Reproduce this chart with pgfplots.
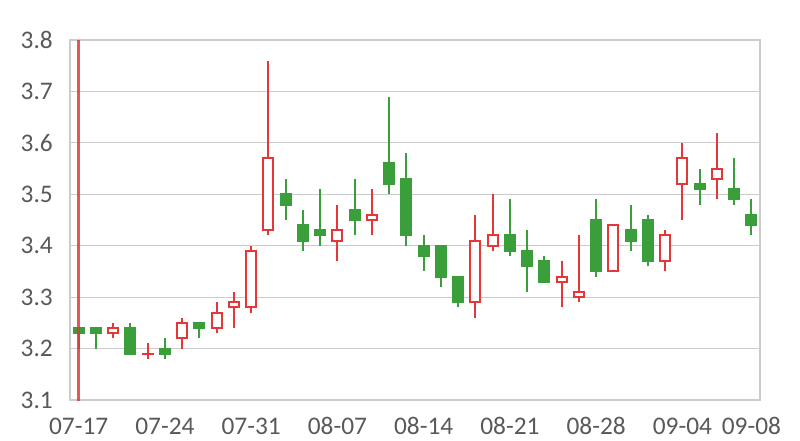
\documentclass[border=0pt]{standalone}
\usepackage{pgfplots}
\usepackage{pgfplotstable}
\pgfplotsset{compat=1.18}
\usepackage{fontspec}
\setmainfont{Carlito}
\definecolor{cred}{RGB}{229,55,55}
\definecolor{cgreen}{RGB}{58,158,58}
\definecolor{cgrid}{RGB}{204,204,204}
\definecolor{ctext}{RGB}{89,89,89}

% rising candles (close >= open): red, hollow
\pgfplotstableread{
idx open high low close
2 3.23 3.25 3.22 3.24
4 3.19 3.21 3.18 3.19
6 3.22 3.26 3.20 3.25
8 3.24 3.29 3.23 3.27
9 3.28 3.31 3.24 3.29
10 3.28 3.40 3.27 3.39
11 3.43 3.76 3.42 3.57
15 3.41 3.48 3.37 3.43
17 3.45 3.51 3.42 3.46
23 3.29 3.46 3.26 3.41
24 3.40 3.50 3.39 3.42
28 3.33 3.37 3.28 3.34
29 3.30 3.42 3.29 3.31
31 3.35 3.44 3.35 3.44
34 3.37 3.43 3.35 3.42
35 3.52 3.60 3.45 3.57
37 3.53 3.62 3.49 3.55
}\updata
% falling candles (close < open): green, filled
\pgfplotstableread{
idx open high low close
0 3.24 3.24 3.20 3.23
1 3.24 3.24 3.20 3.23
3 3.24 3.25 3.19 3.19
5 3.20 3.22 3.18 3.19
7 3.25 3.25 3.22 3.24
12 3.50 3.53 3.45 3.48
13 3.44 3.47 3.39 3.41
14 3.43 3.51 3.40 3.42
16 3.47 3.53 3.42 3.45
18 3.56 3.69 3.50 3.52
19 3.53 3.58 3.40 3.42
20 3.40 3.42 3.35 3.38
21 3.40 3.40 3.32 3.34
22 3.34 3.34 3.28 3.29
25 3.42 3.49 3.38 3.39
26 3.39 3.43 3.31 3.36
27 3.37 3.38 3.33 3.33
30 3.45 3.49 3.34 3.35
32 3.43 3.48 3.39 3.41
33 3.45 3.46 3.36 3.37
36 3.52 3.55 3.48 3.51
38 3.51 3.57 3.48 3.49
39 3.46 3.49 3.42 3.44
}\dndata

\pgfplotsset{
  seg/.style={only marks, mark=*, mark size=0pt,
    mark options={draw=none, fill=none},
    error bars/.cd, y dir=plus, y explicit, error mark=none,
    error bar style={#1}},
}

\begin{document}
\begin{tikzpicture}
\useasboundingbox (-52.5pt,-30pt) rectangle (547.5pt,300pt);
\begin{axis}[
  scale only axis,
  width=517.5pt, height=270pt,
  xmin=-0.5, xmax=39.5,
  ymin=3.1, ymax=3.8,
  xtick={0,5,10,15,20,25,30,35,39},
  xticklabels={07-17,07-24,07-31,08-07,08-14,08-21,08-28,09-04,09-08},
  ytick={3.1,3.2,3.3,3.4,3.5,3.6,3.7,3.8},
  yticklabel style={/pgf/number format/fixed, /pgf/number format/precision=1,
    /pgf/number format/fixed zerofill, /pgf/number format/assume math mode=true,
    inner sep=0pt, xshift=-12.75pt},
  xticklabel style={inner sep=0pt, yshift=-13pt},
  tick label style={font=\fontsize{19}{21}\selectfont, text=ctext},
  major tick length=0pt,
  ymajorgrids,
  grid style={cgrid, line width=0.8pt},
  axis line style={cgrid, line width=0.8pt},
  clip=true,
]
% wicks
\addplot[seg={cred, line width=1.5pt}] table[x=idx, y=low,
  y error plus expr=\thisrow{high}-\thisrow{low}] {\updata};
\addplot[seg={cgreen, line width=1.5pt}] table[x=idx, y=low,
  y error plus expr=\thisrow{high}-\thisrow{low}] {\dndata};
% bodies: rising = red outline, white inside
\addplot[seg={cred, line width=9pt}] table[x=idx, y expr=\thisrow{open}-0.002,
  y error plus expr=\thisrow{close}-\thisrow{open}+0.004] {\updata};
\addplot[seg={white, line width=6pt}] table[x=idx, y expr=\thisrow{open}+0.002,
  y error plus expr={max(\thisrow{close}-\thisrow{open}-0.004,0)}] {\updata};
% bodies: falling = green filled
\addplot[seg={cgreen, line width=9pt}] table[x=idx, y expr=\thisrow{close}-0.002,
  y error plus expr=\thisrow{open}-\thisrow{close}+0.004] {\dndata};
% the long red line through the first day
\addplot[cred, line width=2pt, opacity=0.85, mark=none] coordinates {(0,3.0) (0,3.9)};
\end{axis}
\end{tikzpicture}
\end{document}
